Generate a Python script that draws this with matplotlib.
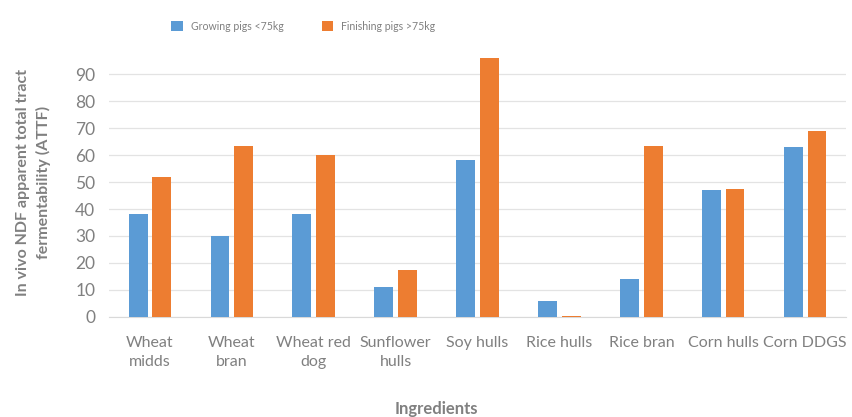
import numpy as np
import matplotlib.pyplot as plt

plt.rcParams['font.family'] = ['Lato', 'DejaVu Sans']

# NDF fermentability by ingredient
ingredients = ["Wheat\nmidds", "Wheat\nbran", "Wheat red\ndog", "Sunflower\nhulls",
               "Soy hulls", "Rice hulls", "Rice bran", "Corn hulls", "Corn DDGS"]
growing = [38, 30, 38, 11, 58, 6, 14, 47, 63]
finishing = [52, 63.5, 60, 17.5, 96, 0.5, 63.5, 47.5, 69]
yticks = [0, 10, 20, 30, 40, 50, 60, 70, 80, 90]

blue = '#5B9BD5'
orange = '#ED7D31'
grey = '#808080'

fig = plt.figure(figsize=(8.52, 4.17), dpi=100)
ax = fig.add_axes([0.128, 0.24, 0.865, 0.647])

x = np.arange(len(ingredients))
w = 0.23
ax.bar(x - 0.145, growing, width=w, color=blue, label='Growing pigs <75kg', zorder=3)
ax.bar(x + 0.145, finishing, width=w, color=orange, label='Finishing pigs >75kg', zorder=3)

ax.set_xlim(-0.5, len(ingredients) - 0.5)
ax.set_ylim(0, 100)
ax.set_yticks(yticks)
ax.set_xticks(x)
ax.set_xticklabels(ingredients, fontsize=11.5, color=grey, linespacing=1.45, va='top')
ax.tick_params(axis='y', length=0, colors=grey, labelsize=12.5, pad=10)
ax.tick_params(axis='x', length=0, colors=grey, pad=14)
ax.grid(axis='y', color='#e3e3e3', linewidth=0.9, zorder=0)

for side in ['top', 'right', 'left']:
    ax.spines[side].set_visible(False)
ax.spines['bottom'].set_color('#d9d9d9')

ax.set_ylabel('In vivo NDF apparent total tract\nfermentability (ATTF)',
              fontsize=11.5, fontweight='bold', color=grey, labelpad=17,
              linespacing=1.5)
fig.text(0.512, 0.0, 'Ingredients', ha='center', va='bottom',
         fontsize=12, fontweight='bold', color=grey)

fig.legend(loc='center left', bbox_to_anchor=(0.195, 0.937), ncol=2, frameon=False,
           fontsize=7.6, labelcolor=grey, handlelength=1.05, handleheight=1.15,
           borderpad=0, columnspacing=3.6, handletextpad=0.8)

fig.savefig('out.png', dpi=100)
